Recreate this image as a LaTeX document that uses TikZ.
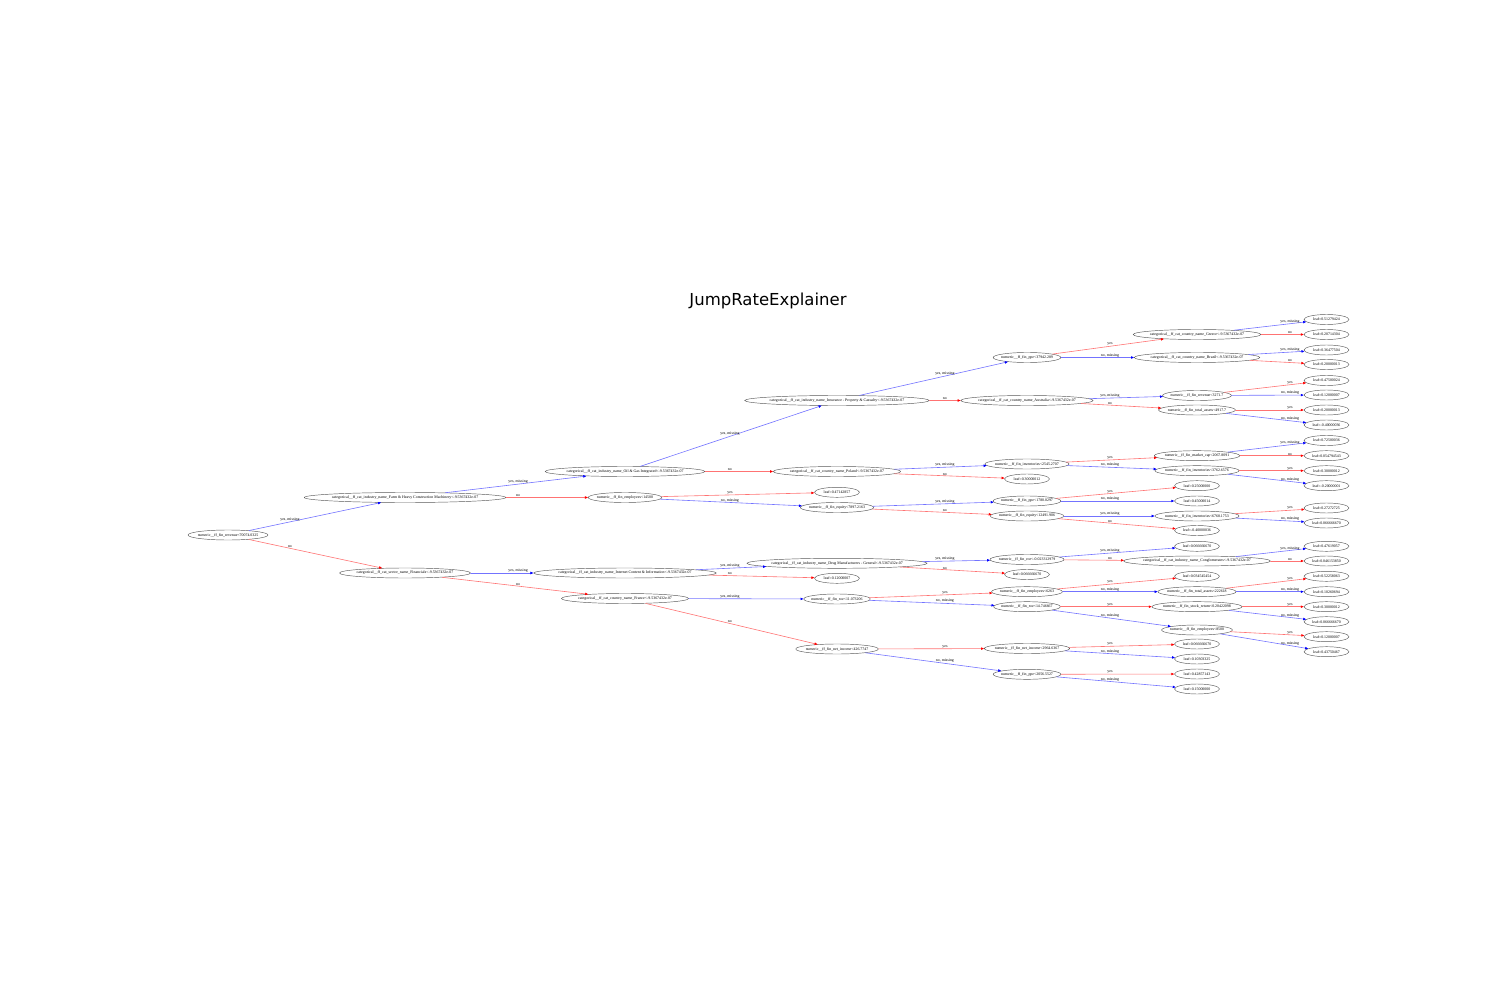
\documentclass[tikz,border=0pt]{standalone}
\usepackage{fontspec}
\setmainfont{Liberation Serif}
\newfontfamily\titlefont{DejaVu Sans}
\usetikzlibrary{arrows.meta,shapes.geometric}
\begin{document}
\begin{tikzpicture}[x=1pt, y=-1pt, line join=round, line cap=round,
	every node/.style={font=\fontsize{3.9}{4.5}\selectfont},
	split/.style={draw=black!65, ellipse, line width=.45pt, inner xsep=-2pt, inner ysep=0pt, minimum height=10pt},
	leaf/.style={split, minimum width=45pt},
	yesno/.style={anchor=south, inner sep=.4pt},
	col1/.style={yesno, pos=.35}, col2/.style={yesno, pos=.514}, col3/.style={yesno, pos=.495},
	col4/.style={yesno, pos=.568}, col5/.style={yesno, pos=.488}, col6/.style={yesno, pos=.718},
	bluearr/.style={draw=blue!55, line width=.6pt, -{Triangle[length=3pt,width=2.4pt,color=blue]}},
	redarr/.style={draw=red!55, line width=.6pt, -{Triangle[length=3pt,width=2.4pt,color=red]}}]
	\useasboundingbox (0,0) rectangle (1500,1000);
	\node[font=\titlefont\fontsize{16.5}{20}\selectfont, anchor=base] (title) at (768,305.5) {JumpRateExplainer};
	% rank 0 and 1
	\node[split] (root) at (228,535) {numeric\_\_ff\_fin\_revenue<70074.0325};
	\node[split] (A) at (405,497.5) {categorical\_\_ff\_cat\_industry\_name\_Farm \& Heavy Construction Machinery<-9.5367432e-07};
	\node[split] (B) at (405,573) {categorical\_\_ff\_cat\_sector\_name\_Financials<-9.5367432e-07};
	% rank 2
	\node[split] (C) at (625,471.5) {categorical\_\_ff\_cat\_industry\_name\_Oil \& Gas Integrated<-9.5367432e-07};
	\node[split] (D) at (625,497.5) {numeric\_\_ff\_fin\_employees<14500};
	\node[split] (E) at (625,573) {categorical\_\_ff\_cat\_industry\_name\_Internet Content \& Information<-9.5367432e-07};
	\node[split] (F) at (625,598.5) {categorical\_\_ff\_cat\_country\_name\_France<-9.5367432e-07};
	% rank 3
	\node[split] (G) at (837,400.5) {categorical\_\_ff\_cat\_industry\_name\_Insurance - Property \& Casualty<-9.5367432e-07};
	\node[split] (H) at (837,471.5) {categorical\_\_ff\_cat\_country\_name\_Poland<-9.5367432e-07};
	\node[leaf] (I) at (837,492.3) {leaf=0.47142857};
	\node[split] (J) at (837,507.5) {numeric\_\_ff\_fin\_equity<7897.2163};
	\node[split] (K) at (837,563.3) {categorical\_\_ff\_cat\_industry\_name\_Drug Manufacturers - General<-9.5367432e-07};
	\node[leaf] (L) at (837,578.3) {leaf=0.12000007};
	\node[split] (M) at (837,599) {numeric\_\_ff\_fin\_roe<11.073206};
	\node[split] (N) at (837,649) {numeric\_\_ff\_fin\_net\_income<426.7747};
	% rank 4
	\node[split] (O) at (1027,357.5) {numeric\_\_ff\_fin\_ppe<37942.289};
	\node[split] (P) at (1027,400.5) {categorical\_\_ff\_cat\_country\_name\_Australia<-9.5367432e-07};
	\node[split] (Q) at (1027,464) {numeric\_\_ff\_fin\_inventories<2545.2707};
	\node[leaf] (R) at (1027,479) {leaf=0.30000012};
	\node[split] (S) at (1027,501) {numeric\_\_ff\_fin\_ppe<1780.0297};
	\node[split] (T) at (1027,516) {numeric\_\_ff\_fin\_equity<12491.906};
	\node[split] (U) at (1027,559.5) {numeric\_\_ff\_fin\_roe<-0.023312979};
	\node[leaf] (V) at (1027,574.5) {leaf=0.066666670};
	\node[split] (W) at (1027,591.7) {numeric\_\_ff\_fin\_employees<6263};
	\node[split] (X) at (1027,606.7) {numeric\_\_ff\_fin\_roe<14.746667};
	\node[split] (Y) at (1027,648.5) {numeric\_\_ff\_fin\_net\_income<2964.6367};
	\node[split] (Z) at (1027,674.3) {numeric\_\_ff\_fin\_ppe<2056.5527};
	% rank 5
	\node[split] (O1) at (1197,334.5) {categorical\_\_ff\_cat\_country\_name\_Greece<-9.5367432e-07};
	\node[split] (O2) at (1197,357.5) {categorical\_\_ff\_cat\_country\_name\_Brazil<-9.5367432e-07};
	\node[split] (P1) at (1197,395.5) {numeric\_\_ff\_fin\_revenue<3271.7};
	\node[split] (P2) at (1197,410) {numeric\_\_ff\_fin\_total\_assets<4917.7};
	\node[split] (Q1) at (1197,455.7) {numeric\_\_ff\_fin\_market\_cap<2067.8091};
	\node[split] (Q2) at (1197,470.7) {numeric\_\_ff\_fin\_inventories<3762.6576};
	\node[leaf] (S1) at (1197,485.7) {leaf=0.25000000};
	\node[leaf] (S2) at (1197,501) {leaf=0.45000014};
	\node[split] (T1) at (1197,516) {numeric\_\_ff\_fin\_inventories<6768.1753};
	\node[leaf] (T2) at (1197,530.5) {leaf=-0.40000036};
	\node[leaf] (U1) at (1197,546.3) {leaf=0.066666670};
	\node[split] (U2) at (1197,561) {categorical\_\_ff\_cat\_industry\_name\_Conglomerates<-9.5367432e-07};
	\node[leaf] (W1) at (1197,576.3) {leaf=0.034545454};
	\node[split] (W2) at (1197,591.7) {numeric\_\_ff\_fin\_total\_assets<222618};
	\node[split] (X1) at (1197,606.7) {numeric\_\_ff\_fin\_stock\_return<0.20422098};
	\node[split] (X2) at (1197,630) {numeric\_\_ff\_fin\_employees<8500};
	\node[leaf] (Y1) at (1197,644) {leaf=0.066666670};
	\node[leaf] (Y2) at (1197,659) {leaf=0.10303325};
	\node[leaf] (Z1) at (1197,674) {leaf=0.42857143};
	\node[leaf] (Z2) at (1197,689) {leaf=0.15000000};
	% rank 6
	\node[leaf] (O1a) at (1326.5,319.5) {leaf=0.51279424};
	\node[leaf] (O1b) at (1326.5,334.5) {leaf=0.20714304};
	\node[leaf] (O2a) at (1326.5,350) {leaf=0.36477504};
	\node[leaf] (O2b) at (1326.5,364.5) {leaf=0.20000013};
	\node[leaf] (P1a) at (1326.5,380.5) {leaf=0.47500024};
	\node[leaf] (P1b) at (1326.5,395) {leaf=0.12000007};
	\node[leaf] (P2a) at (1326.5,410) {leaf=0.20000013};
	\node[leaf] (P2b) at (1326.5,425) {leaf=-0.40000036};
	\node[leaf] (Q1a) at (1326.5,440.5) {leaf=0.72500036};
	\node[leaf] (Q1b) at (1326.5,455.7) {leaf=0.054794543};
	\node[leaf] (Q2a) at (1326.5,470.7) {leaf=0.30000012};
	\node[leaf] (Q2b) at (1326.5,485.7) {leaf=-0.20000001};
	\node[leaf] (T1a) at (1326.5,508) {leaf=0.27272725};
	\node[leaf] (T1b) at (1326.5,523) {leaf=0.066666670};
	\node[leaf] (U2a) at (1326.5,546.3) {leaf=0.47619057};
	\node[leaf] (U2b) at (1326.5,561) {leaf=0.046153850};
	\node[leaf] (W2a) at (1326.5,576.3) {leaf=0.52258063};
	\node[leaf] (W2b) at (1326.5,591.7) {leaf=0.10260694};
	\node[leaf] (X1a) at (1326.5,606.7) {leaf=0.30000012};
	\node[leaf] (X1b) at (1326.5,621.7) {leaf=0.066666670};
	\node[leaf] (X2a) at (1326.5,636.7) {leaf=0.12000007};
	\node[leaf] (X2b) at (1326.5,651.7) {leaf=0.43750467};
	% edges
	\draw[bluearr] (root) -- (A); \path (root.center) -- node[col1]{yes, missing} (A.center);
	\draw[redarr] (root) -- (B); \path (root.center) -- node[col1]{no} (B.center);
	\draw[bluearr] (A) -- (C); \path (A.center) -- node[col2]{yes, missing} (C.center);
	\draw[redarr] (A) -- (D); \path (A.center) -- node[col2]{no} (D.center);
	\draw[bluearr] (B) -- (E); \path (B.center) -- node[col2]{yes, missing} (E.center);
	\draw[redarr] (B) -- (F); \path (B.center) -- node[col2]{no} (F.center);
	\draw[bluearr] (C) -- (G); \path (C.center) -- node[col3]{yes, missing} (G.center);
	\draw[redarr] (C) -- (H); \path (C.center) -- node[col3]{no} (H.center);
	\draw[redarr] (D) -- (I); \path (D.center) -- node[col3]{yes} (I.center);
	\draw[bluearr] (D) -- (J); \path (D.center) -- node[col3]{no, missing} (J.center);
	\draw[bluearr] (E) -- (K); \path (E.center) -- node[col3]{yes, missing} (K.center);
	\draw[redarr] (E) -- (L); \path (E.center) -- node[col3]{no} (L.center);
	\draw[bluearr] (F) -- (M); \path (F.center) -- node[col3]{yes, missing} (M.center);
	\draw[redarr] (F) -- (N); \path (F.center) -- node[col3]{no} (N.center);
	\draw[bluearr] (G) -- (O); \path (G.center) -- node[col4]{yes, missing} (O.center);
	\draw[redarr] (G) -- (P); \path (G.center) -- node[col4]{no} (P.center);
	\draw[bluearr] (H) -- (Q); \path (H.center) -- node[col4]{yes, missing} (Q.center);
	\draw[redarr] (H) -- (R); \path (H.center) -- node[col4]{no} (R.center);
	\draw[bluearr] (J) -- (S); \path (J.center) -- node[col4]{yes, missing} (S.center);
	\draw[redarr] (J) -- (T); \path (J.center) -- node[col4]{no} (T.center);
	\draw[bluearr] (K) -- (U); \path (K.center) -- node[col4]{yes, missing} (U.center);
	\draw[redarr] (K) -- (V); \path (K.center) -- node[col4]{no} (V.center);
	\draw[redarr] (M) -- (W); \path (M.center) -- node[col4]{yes} (W.center);
	\draw[bluearr] (M) -- (X); \path (M.center) -- node[col4]{no, missing} (X.center);
	\draw[redarr] (N) -- (Y); \path (N.center) -- node[col4]{yes} (Y.center);
	\draw[bluearr] (N) -- (Z); \path (N.center) -- node[col4]{no, missing} (Z.center);
	\draw[redarr] (O) -- (O1); \path (O.center) -- node[col5]{yes} (O1.center);
	\draw[bluearr] (O) -- (O2); \path (O.center) -- node[col5]{no, missing} (O2.center);
	\draw[bluearr] (P) -- (P1); \path (P.center) -- node[col5]{yes, missing} (P1.center);
	\draw[redarr] (P) -- (P2); \path (P.center) -- node[col5]{no} (P2.center);
	\draw[redarr] (Q) -- (Q1); \path (Q.center) -- node[col5]{yes} (Q1.center);
	\draw[bluearr] (Q) -- (Q2); \path (Q.center) -- node[col5]{no, missing} (Q2.center);
	\draw[redarr] (S) -- (S1); \path (S.center) -- node[col5]{yes} (S1.center);
	\draw[bluearr] (S) -- (S2); \path (S.center) -- node[col5]{no, missing} (S2.center);
	\draw[bluearr] (T) -- (T1); \path (T.center) -- node[col5]{yes, missing} (T1.center);
	\draw[redarr] (T) -- (T2); \path (T.center) -- node[col5]{no} (T2.center);
	\draw[bluearr] (U) -- (U1); \path (U.center) -- node[col5]{yes, missing} (U1.center);
	\draw[redarr] (U) -- (U2); \path (U.center) -- node[col5]{no} (U2.center);
	\draw[redarr] (W) -- (W1); \path (W.center) -- node[col5]{yes} (W1.center);
	\draw[bluearr] (W) -- (W2); \path (W.center) -- node[col5]{no, missing} (W2.center);
	\draw[redarr] (X) -- (X1); \path (X.center) -- node[col5]{yes} (X1.center);
	\draw[bluearr] (X) -- (X2); \path (X.center) -- node[col5]{no, missing} (X2.center);
	\draw[redarr] (Y) -- (Y1); \path (Y.center) -- node[col5]{yes} (Y1.center);
	\draw[bluearr] (Y) -- (Y2); \path (Y.center) -- node[col5]{no, missing} (Y2.center);
	\draw[redarr] (Z) -- (Z1); \path (Z.center) -- node[col5]{yes} (Z1.center);
	\draw[bluearr] (Z) -- (Z2); \path (Z.center) -- node[col5]{no, missing} (Z2.center);
	\draw[bluearr] (O1) -- (O1a); \path (O1.center) -- node[col6]{yes, missing} (O1a.center);
	\draw[redarr] (O1) -- (O1b); \path (O1.center) -- node[col6]{no} (O1b.center);
	\draw[bluearr] (O2) -- (O2a); \path (O2.center) -- node[col6]{yes, missing} (O2a.center);
	\draw[redarr] (O2) -- (O2b); \path (O2.center) -- node[col6]{no} (O2b.center);
	\draw[redarr] (P1) -- (P1a); \path (P1.center) -- node[col6]{yes} (P1a.center);
	\draw[bluearr] (P1) -- (P1b); \path (P1.center) -- node[col6]{no, missing} (P1b.center);
	\draw[redarr] (P2) -- (P2a); \path (P2.center) -- node[col6]{yes} (P2a.center);
	\draw[bluearr] (P2) -- (P2b); \path (P2.center) -- node[col6]{no, missing} (P2b.center);
	\draw[bluearr] (Q1) -- (Q1a); \path (Q1.center) -- node[col6]{yes, missing} (Q1a.center);
	\draw[redarr] (Q1) -- (Q1b); \path (Q1.center) -- node[col6]{no} (Q1b.center);
	\draw[redarr] (Q2) -- (Q2a); \path (Q2.center) -- node[col6]{yes} (Q2a.center);
	\draw[bluearr] (Q2) -- (Q2b); \path (Q2.center) -- node[col6]{no, missing} (Q2b.center);
	\draw[redarr] (T1) -- (T1a); \path (T1.center) -- node[col6]{yes} (T1a.center);
	\draw[bluearr] (T1) -- (T1b); \path (T1.center) -- node[col6]{no, missing} (T1b.center);
	\draw[bluearr] (U2) -- (U2a); \path (U2.center) -- node[col6]{yes, missing} (U2a.center);
	\draw[redarr] (U2) -- (U2b); \path (U2.center) -- node[col6]{no} (U2b.center);
	\draw[redarr] (W2) -- (W2a); \path (W2.center) -- node[col6]{yes} (W2a.center);
	\draw[bluearr] (W2) -- (W2b); \path (W2.center) -- node[col6]{no, missing} (W2b.center);
	\draw[redarr] (X1) -- (X1a); \path (X1.center) -- node[col6]{yes} (X1a.center);
	\draw[bluearr] (X1) -- (X1b); \path (X1.center) -- node[col6]{no, missing} (X1b.center);
	\draw[redarr] (X2) -- (X2a); \path (X2.center) -- node[col6]{yes} (X2a.center);
	\draw[bluearr] (X2) -- (X2b); \path (X2.center) -- node[col6]{no, missing} (X2b.center);
\end{tikzpicture}
\end{document}
